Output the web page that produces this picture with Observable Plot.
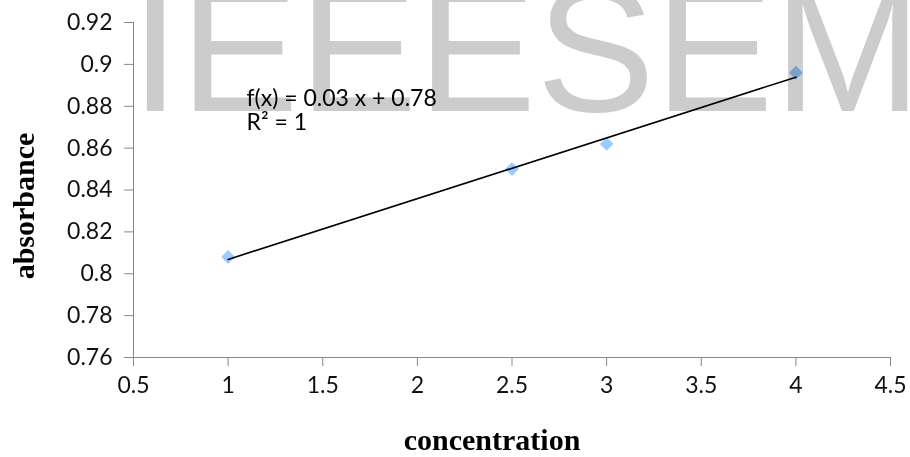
<!DOCTYPE html>
<html>
<head>
<meta charset="utf-8">
<script src="https://cdn.jsdelivr.net/npm/d3@7"></script>
<script src="https://cdn.jsdelivr.net/npm/@observablehq/plot@0.6"></script>
<style>
  html, body { margin: 0; padding: 0; background: #fff; }
  #chart svg { display: block; }
</style>
</head>
<body>
<div id="chart"></div>
<script>
const concentration = [1, 2.5, 3, 4];
const absorbance = [0.808, 0.850, 0.862, 0.896];
const xTicks = [0.5, 1, 1.5, 2, 2.5, 3, 3.5, 4, 4.5];
const yTicks = [0.76, 0.78, 0.8, 0.82, 0.84, 0.86, 0.88, 0.9, 0.92];
const equationLabel = ["f(x) = 0.03 x + 0.78", "R² = 1"];
const watermark = ["IEEESEM"];
const xTitle = "concentration";
const yTitle = "absorbance";

const data = concentration.map((c, i) => ({c, a: absorbance[i]}));
const fmtY = d => String(+d.toFixed(2));

const plot = Plot.plot({
  width: 910,
  height: 457,
  marginLeft: 133,
  marginRight: 20,
  marginTop: 22,
  marginBottom: 100,
  style: {fontFamily: "Lato, 'Open Sans', sans-serif", fontSize: "23px", color: "#111", background: "#fff", overflow: "hidden"},
  x: {domain: [0.5, 4.5], ticks: xTicks, tickFormat: d => String(d), label: null},
  y: {domain: [0.76, 0.92], ticks: yTicks, tickFormat: fmtY, label: null},
  marks: [
    Plot.text(watermark, {
      text: d => d, frameAnchor: "top-left", textAnchor: "start", lineAnchor: "bottom",
      dx: -3, dy: 88, fontSize: 178, fill: "#cccccc",
      fontFamily: "'Liberation Sans', Arial, sans-serif"
    }),
    Plot.ruleX([0.5], {stroke: "#888", strokeWidth: 1}),
    Plot.ruleY([0.76], {stroke: "#888", strokeWidth: 1}),
    Plot.axisX({ticks: xTicks, tickSize: 9, stroke: "#888", tickPadding: 10, fill: "#111", tickFormat: d => String(d), label: null, fontSize: 23}),
    Plot.axisY({ticks: yTicks, tickSize: 9, stroke: "#888", tickPadding: 12, fill: "#111", tickFormat: fmtY, label: null, fontSize: 23}),
    Plot.linearRegressionY(data, {x: "c", y: "a", ci: 0, stroke: "#000", strokeWidth: 1.6}),
    Plot.dot(data, {x: "c", y: "a", symbol: "diamond2", r: 6.2, fill: "#99ccff", stroke: "none", mixBlendMode: "multiply"}),
    Plot.text([equationLabel.join("\n")], {
      text: d => d, frameAnchor: "top-left", textAnchor: "start", lineAnchor: "top",
      dx: 113, dy: 67, fontSize: 23, lineHeight: 1.04, fill: "#000"
    }),
    Plot.text([xTitle], {
      text: d => d, frameAnchor: "bottom", textAnchor: "middle", lineAnchor: "bottom", dx: -20, dy: 92,
      fontFamily: "'Liberation Serif', 'Times New Roman', serif", fontWeight: "bold", fontSize: 30, fill: "#000"
    }),
    Plot.text([yTitle], {
      text: d => d, frameAnchor: "left", textAnchor: "middle", rotate: -90, lineAnchor: "bottom", dx: -100, dy: 16,
      fontFamily: "'Liberation Serif', 'Times New Roman', serif", fontWeight: "bold", fontSize: 30, fill: "#000"
    })
  ]
});
document.getElementById("chart").appendChild(plot);
</script>
</body>
</html>
